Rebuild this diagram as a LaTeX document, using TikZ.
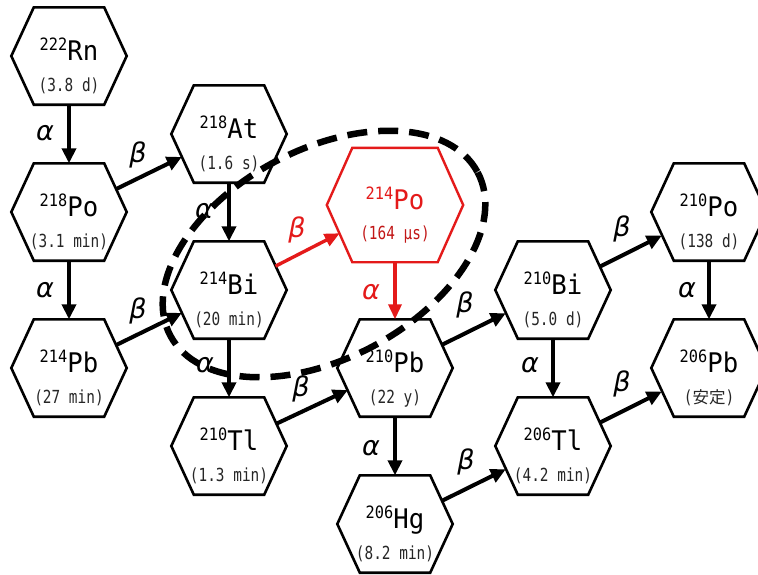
\documentclass[tikz,border=0pt]{standalone}
\usepackage{fontspec}
\setmainfont{DejaVu Sans Mono}
\newfontfamily\monof{DejaVu Sans Mono}
\newfontfamily\jpf{Noto Sans CJK JP}
\newfontfamily\grk{DejaVu Sans}
\usetikzlibrary{arrows.meta,calc}
\definecolor{nred}{RGB}{228,26,26}
\newcommand\nucsym[2]{\raisebox{9.5pt}{\scalebox{0.9}[1]{\fontsize{17}{17}\selectfont #1}}\scalebox{0.95}[1]{#2}}
\newcommand\halfl[1]{\scalebox{0.8}[1]{#1}}
\newcommand\hexnuc[6]{%
  \node[hexbox] (#1) at (#2,#3) {};
  \draw[hexline] (#1.west) -- ([xshift=22.5pt]#1.north west) -- ([xshift=-22.5pt]#1.north east) -- (#1.east) -- ([xshift=-22.5pt]#1.south east) -- ([xshift=22.5pt]#1.south west) -- cycle;
  \node[elemtxt] (#1e) at ($(#1.center)+(0,4)$) {\nucsym{#4}{#5}};
  \node[halftxt] (#1h) at ($(#1.center)+(0,35)$) {#6};
}
\begin{document}
\begin{tikzpicture}[x=1pt,y=-1pt,
  hexbox/.style={minimum width=115pt,minimum height=97pt,inner sep=0pt,draw=none},
  bighexbox/.style={minimum width=136pt,minimum height=114pt,inner sep=0pt,draw=none},
  hexline/.style={draw=black,line width=2.6pt,line join=miter},
  elemtxt/.style={anchor=base,inner sep=0pt,font=\monof\fontsize{27}{27}\selectfont},
  halftxt/.style={anchor=base,inner sep=0pt,font=\monof\fontsize{18}{18}\selectfont,text=black!85},
  darr/.style={-{Triangle[length=15pt,width=14pt]},line width=4pt},
  diag/.style={darr,shorten <=-11.7pt,shorten >=-11.7pt},
  redarr/.style={-{Triangle[length=15pt,width=13pt]},line width=3.4pt,draw=nred},
  glab/.style={inner sep=0pt,font=\grk\itshape\fontsize{27}{27}\selectfont},
]
\fill[white] (0,0) rectangle (758,574);
\useasboundingbox (0,0) rectangle (758,574);
\clip (0,0) rectangle (758,574);

% nuclides
\hexnuc{Rn}{69}{56}{222}{Rn}{\halfl{(3.8 d)}}
\hexnuc{PoA}{69}{212}{218}{Po}{\halfl{(3.1 min)}}
\hexnuc{PbA}{69}{368}{214}{Pb}{\halfl{(27 min)}}
\hexnuc{At}{229}{134}{218}{At}{\halfl{(1.6 s)}}
\hexnuc{BiA}{229}{290}{214}{Bi}{\halfl{(20 min)}}
\hexnuc{TlA}{229}{446}{210}{Tl}{\halfl{(1.3 min)}}
\hexnuc{PbB}{395}{368}{210}{Pb}{\halfl{(22 y)}}
\hexnuc{Hg}{395}{524}{206}{Hg}{\halfl{(8.2 min)}}
\hexnuc{BiB}{553}{290}{210}{Bi}{\halfl{(5.0 d)}}
\hexnuc{TlB}{553}{446}{206}{Tl}{\halfl{(4.2 min)}}
\hexnuc{PoC}{709}{212}{210}{Po}{\halfl{(138 d)}}
\hexnuc{PbC}{709}{368}{206}{Pb}{\halfl{(}{\jpf\fontsize{16.5}{16.5}\selectfont 安定}\halfl{)}}

% red 214Po
\node[bighexbox] (PoB) at (395,205) {};
\draw[hexline,draw=nred,line width=2.4pt] (PoB.west) -- ([xshift=25.5pt]PoB.north west) -- ([xshift=-25.5pt]PoB.north east) -- (PoB.east) -- ([xshift=-25.5pt]PoB.south east) -- ([xshift=25.5pt]PoB.south west) -- cycle;
\node[elemtxt,text=nred] (PoBe) at ($(PoB.center)+(0,4)$) {\nucsym{214}{Po}};
\node[halftxt,text=nred!85!black] (PoBh) at ($(PoB.center)+(0,34)$) {\halfl{(164 μs)}};

% decays
\draw[darr] (Rn) -- (PoA);
\draw[diag] (PoA) -- (At);
\draw[darr] (PoA) -- (PbA);
\draw[diag] (PbA) -- (BiA);
\draw[darr] (At) -- (BiA);
\draw[redarr,shorten <=-12.6pt,shorten >=-14.5pt] (BiA) -- (PoB);
\draw[redarr] (PoB) -- (PbB);
\draw[darr] (BiA) -- (TlA);
\draw[diag] (TlA) -- (PbB);
\draw[darr] (PbB) -- (Hg);
\draw[diag] (Hg) -- (TlB);
\draw[diag] (PbB) -- (BiB);
\draw[darr] (BiB) -- (TlB);
\draw[diag] (BiB) -- (PoC);
\draw[darr] (PoC) -- (PbC);
\draw[diag] (TlB) -- (PbC);

% labels
\node[glab] (l1) at (45,133) {α};
\node[glab] (l2) at (138,155) {β};
\node[glab] (l3) at (45,290) {α};
\node[glab] (l4) at (138,311) {β};
\node[glab] (l5) at (204,211) {α};
\node[glab,text=nred] (l6) at (297,230) {β};
\node[glab,text=nred] (l7) at (371,292) {α};
\node[glab] (l8) at (205,365) {α};
\node[glab] (l9) at (301,389) {β};
\node[glab] (l10) at (371,448) {α};
\node[glab] (l11) at (466,462) {β};
\node[glab] (l12) at (465,305) {β};
\node[glab] (l13) at (530,365) {α};
\node[glab] (l14) at (622,229) {β};
\node[glab] (l15) at (687,290) {α};
\node[glab] (l16) at (622,384) {β};

% highlight
\draw[line width=6.5pt,dash pattern=on 20pt off 11pt] (324,254) ellipse [x radius=174, y radius=104.5, rotate=28];
\end{tikzpicture}
\end{document}
